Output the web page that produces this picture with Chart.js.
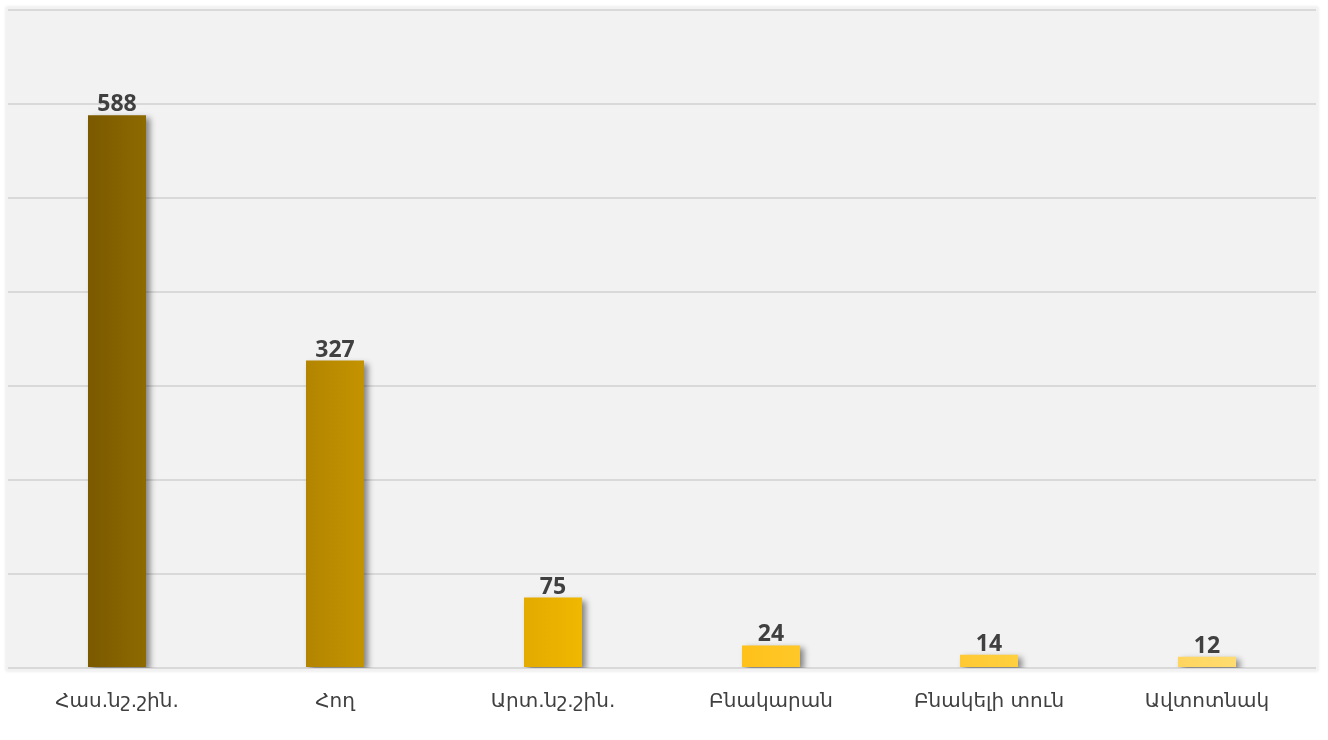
<!DOCTYPE html>
<html>
<head>
<meta charset="utf-8">
<script src="https://cdn.jsdelivr.net/npm/chart.js@4.4.0/dist/chart.umd.min.js"></script>
<style>
html,body{margin:0;padding:0;background:#fff;}
#wrap{width:1328px;height:740px;position:relative;}
</style>
</head>
<body>
<div id="wrap"><canvas id="c" width="1328" height="740"></canvas></div>
<script>
const categories = ["Հաս.նշ.շին.", "Հող", "Արտ.նշ.շին.", "Բնակարան", "Բնակելի տուն", "Ավտոտնակ"];
const values = [588, 327, 75, 24, 14, 12];
const colorsLeft = ["#7a5900", "#b38500", "#e3aa00", "#ffc11a", "#ffc933", "#ffd55e"];
const colorsRight = ["#8e6a00", "#c39300", "#f0b800", "#ffc828", "#ffd040", "#ffdc70"];
const yMax = 700;
const yStep = 100;

const bgPlugin = {
  id: 'bg',
  beforeDraw(chart) {
    const {ctx, chartArea: a} = chart;
    ctx.save();
    ctx.fillStyle = '#f2f2f2';
    ctx.shadowColor = 'rgba(0,0,0,0.12)';
    ctx.shadowBlur = 3;
    ctx.fillRect(a.left - 2, a.top - 3, a.right - a.left + 4, a.bottom - a.top + 6);
    ctx.restore();
  }
};

const shadowPlugin = {
  id: 'barShadow',
  beforeDatasetsDraw(chart) {
    const ctx = chart.ctx;
    ctx.save();
    ctx.shadowColor = 'rgba(0,0,0,0.45)';
    ctx.shadowBlur = 6;
    ctx.shadowOffsetX = 4;
    ctx.shadowOffsetY = 3;
  },
  afterDatasetsDraw(chart) {
    chart.ctx.restore();
    const ctx = chart.ctx;
    const meta = chart.getDatasetMeta(0);
    ctx.save();
    ctx.font = 'bold 23px "Open Sans", "DejaVu Sans", sans-serif';
    ctx.fillStyle = '#404040';
    ctx.textAlign = 'center';
    ctx.textBaseline = 'bottom';
    meta.data.forEach((bar, i) => {
      ctx.fillText(String(values[i]), bar.x, bar.y + 1);
    });
    ctx.restore();
  }
};

new Chart(document.getElementById('c'), {
  type: 'bar',
  data: {
    labels: categories,
    datasets: [{
      data: values,
      backgroundColor: (context) => {
        const chart = context.chart;
        const area = chart.chartArea;
        if (!area) return colorsLeft[context.dataIndex];
        const x = chart.scales.x.getPixelForValue(context.dataIndex);
        const half = 29;
        const g = chart.ctx.createLinearGradient(x - half, 0, x + half, 0);
        g.addColorStop(0, colorsLeft[context.dataIndex]);
        g.addColorStop(1, colorsRight[context.dataIndex]);
        return g;
      },
      borderWidth: 0,
      categoryPercentage: 1,
      barPercentage: 0.266
    }]
  },
  options: {
    responsive: false,
    animation: false,
    layout: { padding: { left: 8, right: 12, top: 10, bottom: 12 } },
    plugins: { legend: { display: false }, tooltip: { enabled: false } },
    scales: {
      x: {
        grid: { display: false },
        border: { display: false },
        ticks: {
          color: '#404040',
          font: { family: '"DejaVu Sans", "Noto Sans", sans-serif', size: 20 },
          padding: 14
        }
      },
      y: {
        min: 0, max: yMax,
        grid: { color: '#d9d9d9', lineWidth: 2, drawTicks: false },
        border: { display: false },
        ticks: { display: false, stepSize: yStep }
      }
    }
  },
  plugins: [bgPlugin, shadowPlugin]
});
</script>
</body>
</html>
